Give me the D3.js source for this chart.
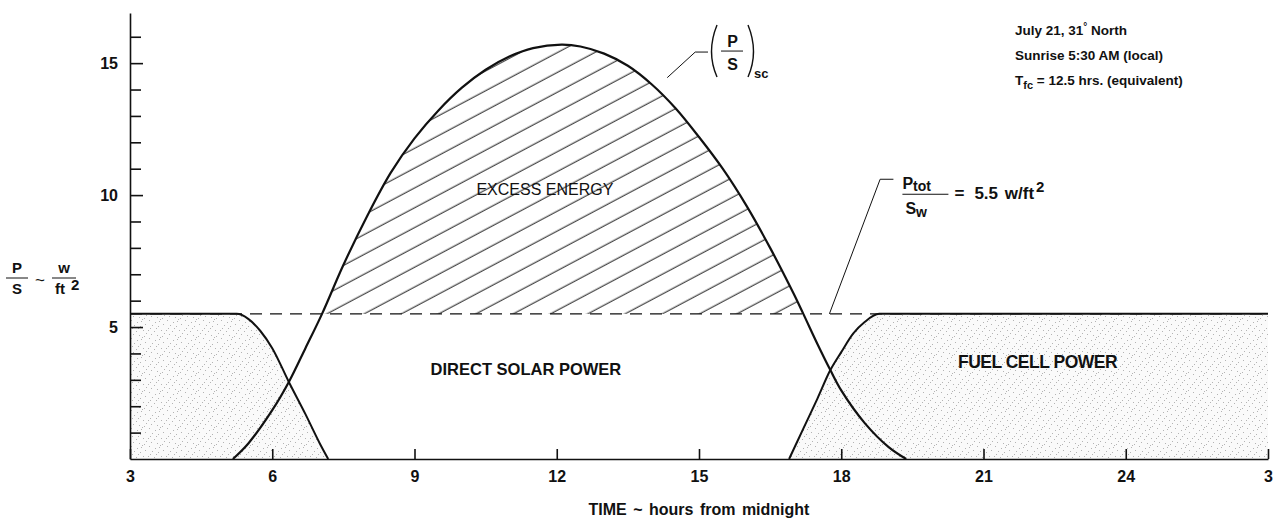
<!DOCTYPE html>
<html>
<head>
<meta charset="utf-8">
<script src="https://cdn.jsdelivr.net/npm/d3@7"></script>
<style>
  body { margin: 0; background: #fff; }
  svg { display: block; font-family: 'Liberation Sans', Arial, Helvetica, sans-serif; }
</style>
</head>
<body>
<svg id="chart" width="1275" height="525"></svg>
<script>
// values
var solarHours = [5.17, 5.5, 6.0, 6.35, 6.7, 7.05, 7.5, 8.0, 8.5, 9.0, 9.5, 10.0, 10.5, 11.0, 11.5, 12.1,
                  12.5, 13.0, 13.5, 14.0, 14.5, 15.0, 15.5, 16.0, 16.5, 17.0, 17.2, 17.5, 17.77, 18.0, 18.5, 19.0, 19.37];
var solarPower = [0, 0.6, 1.85, 2.92, 4.2, 5.5, 7.35, 9.2, 10.85, 12.15, 13.2, 14.07, 14.75, 15.25, 15.57, 15.7,
                  15.63, 15.36, 14.9, 14.2, 13.3, 12.2, 11.0, 9.6, 8.0, 6.25, 5.5, 4.35, 3.37, 2.6, 1.35, 0.45, 0];

var fuelAmHours = [3, 5.25, 5.5, 5.75, 6.0, 6.35, 6.7, 7.0, 7.18];
var fuelAmPower = [5.5, 5.5, 5.3, 4.85, 4.2, 2.92, 1.7, 0.6, 0];
var fuelPmHours = [16.9, 17.2, 17.5, 17.77, 18.0, 18.25, 18.5, 18.8, 27];
var fuelPmPower = [0, 1.15, 2.3, 3.37, 4.05, 4.75, 5.2, 5.5, 5.5];

var totalPower = 5.5;

var xTicks = [3, 6, 9, 12, 15, 18, 21, 24, 27];
var xTickLabels = ['3', '6', '9', '12', '15', '18', '21', '24', '3'];
var yMajorTicks = [5, 10, 15];
var yMinorTicks = [1, 2, 3, 4, 6, 7, 8, 9, 11, 12, 13, 14, 16];

var infoLines = ['July 21, 31', 'Sunrise 5:30 AM (local)', '= 12.5 hrs. (equivalent)'];

var margin = { top: 13, right: 7, bottom: 66, left: 130 };
var width = 1275 - margin.left - margin.right;
var height = 525 - margin.top - margin.bottom;

var svg = d3.select('#chart');
var defs = svg.append('defs');

// stipple texture for the fuel cell areas
var dots = [[1, 1], [7, 3], [12, 0], [4, 6], [10, 7], [15, 5], [0, 11], [6, 12], [13, 11], [3, 15], [9, 16], [16, 14], [11, 2], [2, 9], [14, 17], [8, 9]];
var stip = defs.append('pattern').attr('id', 'stipple')
    .attr('patternUnits', 'userSpaceOnUse').attr('width', 18).attr('height', 18);
stip.append('rect').attr('width', 18).attr('height', 18).attr('fill', '#fafafa');
stip.selectAll('rect.d').data(dots).enter().append('rect').attr('class', 'd')
    .attr('x', function(d) { return d[0]; }).attr('y', function(d) { return d[1]; })
    .attr('width', 1).attr('height', 1).attr('fill', '#b4b4b4');

// diagonal hatch for the excess energy
var hatch = defs.append('pattern').attr('id', 'hatch')
    .attr('patternUnits', 'userSpaceOnUse').attr('width', 60).attr('height', 17.5)
    .attr('patternTransform', 'rotate(-28)');
hatch.append('line').attr('x1', 0).attr('x2', 60).attr('y1', 8).attr('y2', 8)
    .attr('stroke', '#111').attr('stroke-width', 1);

var g = svg.append('g').attr('transform', 'translate(' + margin.left + ',' + margin.top + ')');

var x = d3.scaleLinear().domain([3, 27]).range([0, width]);
var y = d3.scaleLinear().domain([0, 16.9]).range([height, 0]);

function pts(hs, vs) {
    return hs.map(function(h, i) { return [h, vs[i]]; });
}
var solar = pts(solarHours, solarPower);
var fuelAm = pts(fuelAmHours, fuelAmPower);
var fuelPm = pts(fuelPmHours, fuelPmPower);

function px(d) { return x(d[0]); }
function py(d) { return y(d[1]); }
var line = d3.line().x(px).y(py).curve(d3.curveMonotoneX);
var area = d3.area().x(px).y0(y(0)).y1(py).curve(d3.curveMonotoneX);
var solarLine = d3.line().x(px).y(py).curve(d3.curveCatmullRom.alpha(0.5));
var solarArea = d3.area().x(px).y0(y(0)).y1(py).curve(d3.curveCatmullRom.alpha(0.5));

g.append('path').attr('d', area(fuelAm)).attr('fill', 'url(#stipple)');
g.append('path').attr('d', area(fuelPm)).attr('fill', 'url(#stipple)');

defs.append('clipPath').attr('id', 'underSolar').append('path').attr('d', solarArea(solar));
g.append('g').attr('clip-path', 'url(#underSolar)')
  .append('rect')
    .attr('x', x(solarHours[0])).attr('width', x(solarHours[solarHours.length - 1]) - x(solarHours[0]))
    .attr('y', 0).attr('height', y(totalPower))
    .attr('fill', 'url(#hatch)');

// P_tot / S_w level
g.append('line')
    .attr('x1', x(3)).attr('x2', x(27)).attr('y1', y(totalPower)).attr('y2', y(totalPower))
    .attr('stroke', '#111').attr('stroke-width', 1.3).attr('stroke-dasharray', '12,8');

[fuelAm, fuelPm].forEach(function(d) {
    g.append('path').attr('d', line(d)).attr('fill', 'none').attr('stroke', '#111').attr('stroke-width', 2);
});
g.append('path').attr('d', solarLine(solar)).attr('fill', 'none').attr('stroke', '#111').attr('stroke-width', 2.2);

// axes
var xAxis = d3.axisBottom(x).tickValues(xTicks).tickSizeInner(-10).tickSizeOuter(0).tickPadding(12)
    .tickFormat(function(d, i) { return xTickLabels[i]; });
var gx = g.append('g').attr('transform', 'translate(0,' + height + ')').call(xAxis);

var yAxis = d3.axisLeft(y).tickValues(yMajorTicks).tickSizeInner(-13).tickSizeOuter(0).tickPadding(12);
var gy = g.append('g').call(yAxis);
var gyMinor = g.append('g').call(d3.axisLeft(y).tickValues(yMinorTicks).tickSizeInner(-11).tickSizeOuter(0).tickFormat(''));
gyMinor.select('.domain').remove();

[gx, gy, gyMinor].forEach(function(a) {
    a.selectAll('.domain').attr('stroke', '#111').attr('stroke-width', 1.6);
    a.selectAll('.tick line').attr('stroke', '#111').attr('stroke-width', 1.6);
    a.selectAll('.tick text').attr('fill', '#111').style('font-size', '16px').style('font-weight', 'bold')
        .style('font-family', "'Liberation Sans', Arial, sans-serif");
});

g.append('text').attr('x', x(15)).attr('y', height + 56).attr('text-anchor', 'middle')
    .style('font-size', '16px').style('font-weight', 'bold').style('word-spacing', '2px').attr('fill', '#111')
    .text('TIME ~ hours from midnight');

// y label  P/S ~ w/ft^2
var yl = svg.append('g').attr('fill', '#111').style('font-size', '15px').style('font-weight', 'bold');
yl.append('text').attr('x', 17).attr('y', 273).attr('text-anchor', 'middle').text('P');
yl.append('line').attr('x1', 6).attr('x2', 28).attr('y1', 278).attr('y2', 278).attr('stroke', '#111').attr('stroke-width', 1);
yl.append('text').attr('x', 17).attr('y', 294).attr('text-anchor', 'middle').text('S');
yl.append('text').attr('x', 40).attr('y', 286).attr('text-anchor', 'middle').style('font-weight', 'normal').style('font-size', '17px').text('~');
yl.append('text').attr('x', 64).attr('y', 273).attr('text-anchor', 'middle').text('w');
yl.append('line').attr('x1', 52).attr('x2', 76).attr('y1', 278).attr('y2', 278).attr('stroke', '#111').attr('stroke-width', 1);
yl.append('text').attr('x', 55).attr('y', 294).text('ft');
yl.append('text').attr('x', 71).attr('y', 290).text('2');

// area labels
g.append('text').attr('x', x(11.75)).attr('y', y(10.0)).attr('text-anchor', 'middle')
    .style('font-size', '16px').attr('fill', '#111').text('EXCESS ENERGY');
g.append('text').attr('x', x(11.35)).attr('y', y(3.2)).attr('text-anchor', 'middle')
    .style('font-size', '16.5px').style('font-weight', 'bold').attr('fill', '#111').text('DIRECT SOLAR POWER');
g.append('text').attr('x', x(22.14)).attr('y', y(3.45)).attr('text-anchor', 'middle')
    .style('font-size', '17.5px').style('font-weight', 'bold').style('letter-spacing', '-0.5px').attr('fill', '#111')
    .text('FUEL CELL POWER');

// (P/S)_sc callout
var lead = d3.line().x(px).y(py);
g.append('path').attr('d', lead([[14.33, 14.45], [14.92, 15.42], [15.19, 15.42]]))
    .attr('fill', 'none').attr('stroke', '#111').attr('stroke-width', 1);
var sc = g.append('g').attr('transform', 'translate(' + x(15.19) + ',' + y(15.42) + ')').attr('fill', '#111');
sc.append('path').attr('d', 'M9,-27 Q-2,0 9,25').attr('fill', 'none').attr('stroke', '#111').attr('stroke-width', 1.4);
sc.append('path').attr('d', 'M40,-27 Q51,0 40,25').attr('fill', 'none').attr('stroke', '#111').attr('stroke-width', 1.4);
sc.append('text').attr('x', 24.5).attr('y', -5).attr('text-anchor', 'middle').style('font-size', '16px').style('font-weight', 'bold').text('P');
sc.append('line').attr('x1', 13).attr('x2', 35).attr('y1', -1).attr('y2', -1).attr('stroke', '#111').attr('stroke-width', 1);
sc.append('text').attr('x', 24.5).attr('y', 18).attr('text-anchor', 'middle').style('font-size', '16px').style('font-weight', 'bold').text('S');
sc.append('text').attr('x', 46).attr('y', 26).style('font-size', '13px').style('font-weight', 'bold').text('sc');

// P_tot / S_w callout
g.append('path').attr('d', lead([[17.75, totalPower], [18.82, 10.6], [19.1, 10.6]]))
    .attr('fill', 'none').attr('stroke', '#111').attr('stroke-width', 1);
var pt = g.append('g').attr('transform', 'translate(' + x(19.29) + ',' + y(10.6) + ')').attr('fill', '#111')
    .style('font-weight', 'bold');
var ptop = pt.append('text').attr('x', 0).attr('y', 10).style('font-size', '16px');
ptop.append('tspan').text('P');
ptop.append('tspan').attr('dy', 2).style('font-size', '14px').text('tot');
pt.append('line').attr('x1', 0).attr('x2', 46).attr('y1', 15).attr('y2', 15).attr('stroke', '#111').attr('stroke-width', 1);
var pbot = pt.append('text').attr('x', 3).attr('y', 35).style('font-size', '16px');
pbot.append('tspan').text('S');
pbot.append('tspan').attr('dy', 3).style('font-size', '14px').text('w');
pt.append('text').attr('x', 52).attr('y', 20).style('font-size', '17px').text('=');
var peq = pt.append('text').attr('x', 72).attr('y', 20).style('font-size', '17px').style('word-spacing', '2px');
peq.append('tspan').text('5.5 w/ft');
peq.append('tspan').attr('dy', -7).attr('dx', 2).style('font-size', '15px').text('2');

// conditions, top right
var info = svg.append('text').attr('x', 1015).attr('y', 35).attr('fill', '#111')
    .style('font-size', '13.5px').style('font-weight', 'bold');
info.append('tspan').attr('x', 1015).text(infoLines[0]);
info.append('tspan').attr('dy', -5).style('font-size', '10px').text('\u00b0');
info.append('tspan').attr('dy', 5).text(' North');
info.append('tspan').attr('x', 1015).attr('dy', 25).text(infoLines[1]);
info.append('tspan').attr('x', 1015).attr('dy', 25).text('T');
info.append('tspan').attr('dy', 4).style('font-size', '11px').text('fc');
info.append('tspan').attr('dy', -4).text(' ' + infoLines[2]);
</script>
</body>
</html>
